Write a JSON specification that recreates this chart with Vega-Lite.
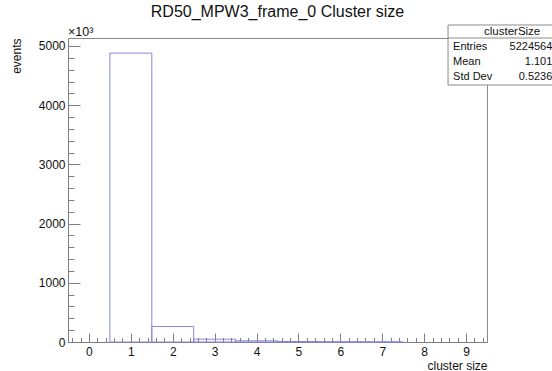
{
  "$schema": "https://vega.github.io/schema/vega-lite/v6.json",
  "width": 419,
  "height": 304,
  "autosize": "none",
  "padding": {"left": 68, "top": 38, "right": 65, "bottom": 29},
  "background": "white",
  "config": {
    "font": "Liberation Sans",
    "view": {"stroke": "#8a8a8a", "strokeWidth": 1}
  },
  "title": {
    "text": "RD50_MPW3_frame_0 Cluster size",
    "font": "Liberation Sans",
    "fontSize": 16,
    "fontWeight": "normal",
    "color": "#111111",
    "anchor": "middle",
    "frame": "group",
    "baseline": "alphabetic",
    "offset": -9
  },
  "datasets": {
    "bins": [
      {"cluster_size": 1, "lo": 0.5, "hi": 1.5, "events": 4880000},
      {"cluster_size": 2, "lo": 1.5, "hi": 2.5, "events": 262000},
      {"cluster_size": 3, "lo": 2.5, "hi": 3.5, "events": 48000},
      {"cluster_size": 4, "lo": 3.5, "hi": 4.5, "events": 20000},
      {"cluster_size": 5, "lo": 4.5, "hi": 5.5, "events": 8500},
      {"cluster_size": 6, "lo": 5.5, "hi": 6.5, "events": 4000},
      {"cluster_size": 7, "lo": 6.5, "hi": 7.5, "events": 2064}
    ],
    "stats": [
      {"name": "clusterSize", "entries": "5224564", "mean": "1.101", "std_dev": "0.5236"}
    ]
  },
  "resolve": {"axis": {"x": "independent", "y": "independent"}},
  "layer": [
    {
      "data": {"name": "bins"},
      "mark": {"type": "rect", "fillOpacity": 0, "stroke": "#8787d9", "strokeWidth": 1},
      "encoding": {
        "x": {
          "field": "lo", "type": "quantitative",
          "scale": {"domain": [-0.5, 9.5], "nice": false, "zero": false},
          "axis": {
            "orient": "bottom",
            "values": [0, 1, 2, 3, 4, 5, 6, 7, 8, 9],
            "format": "d",
            "grid": false,
            "tickSize": -9,
            "tickColor": "#7f7f7f",
            "domainColor": "#7f7f7f",
            "labelFontSize": 12,
            "labelColor": "#111111",
            "labelPadding": 13,
            "title": "cluster size",
            "titleFontSize": 12,
            "titleFontWeight": "normal",
            "titleColor": "#111111",
            "titleAnchor": "end",
            "titlePadding": 3
          }
        },
        "x2": {"field": "hi"},
        "y": {
          "field": "events", "type": "quantitative",
          "scale": {"domain": [0, 5135000], "nice": false},
          "axis": {
            "orient": "left",
            "values": [0, 1000000, 2000000, 3000000, 4000000, 5000000],
            "labelExpr": "format(datum.value / 1000, 'd')",
            "grid": false,
            "tickSize": -12,
            "tickColor": "#7f7f7f",
            "domainColor": "#7f7f7f",
            "labelFontSize": 12,
            "labelColor": "#111111",
            "labelPadding": 15,
            "title": "events",
            "titleFontSize": 12,
            "titleFontWeight": "normal",
            "titleColor": "#111111",
            "titleAnchor": "end",
            "titlePadding": 15
          }
        },
        "y2": {"datum": 0}
      }
    },
    {
      "data": {"name": "bins"},
      "mark": {"type": "rect", "opacity": 0},
      "encoding": {
        "x": {
          "field": "lo", "type": "quantitative",
          "axis": {
            "orient": "bottom",
            "values": [-0.4, -0.2, 0.2, 0.4, 0.6, 0.8, 1.2, 1.4, 1.6, 1.8, 2.2, 2.4, 2.6, 2.8, 3.2, 3.4, 3.6, 3.8, 4.2, 4.4, 4.6, 4.8, 5.2, 5.4, 5.6, 5.8, 6.2, 6.4, 6.6, 6.8, 7.2, 7.4, 7.6, 7.8, 8.2, 8.4, 8.6, 8.8, 9.2, 9.4],
            "grid": false,
            "domain": false,
            "labels": false,
            "tickSize": -4.5,
            "tickColor": "#7f7f7f",
            "title": null
          }
        },
        "x2": {"field": "hi"},
        "y": {
          "field": "events", "type": "quantitative",
          "axis": {
            "orient": "left",
            "values": [200000, 400000, 600000, 800000, 1200000, 1400000, 1600000, 1800000, 2200000, 2400000, 2600000, 2800000, 3200000, 3400000, 3600000, 3800000, 4200000, 4400000, 4600000, 4800000],
            "grid": false,
            "domain": false,
            "labels": false,
            "tickSize": -6,
            "tickColor": "#7f7f7f",
            "title": null
          }
        },
        "y2": {"datum": 0}
      }
    },
    {
      "data": {"name": "stats"},
      "mark": {"type": "text", "text": "×10³", "align": "left", "baseline": "bottom", "dy": 1, "fontSize": 12.5, "color": "#111111"},
      "encoding": {
        "x": {"datum": -0.5, "axis": null},
        "y": {"datum": 5135000, "axis": null}
      }
    },
    {
      "data": {"name": "stats"},
      "mark": {"type": "rect", "fill": "white", "stroke": "#8a8a8a", "strokeWidth": 1},
      "encoding": {
        "x": {"datum": 8.57, "axis": null},
        "x2": {"datum": 11.4},
        "y": {"datum": 5354800, "axis": null},
        "y2": {"datum": 4341200}
      }
    },
    {
      "data": {"name": "stats"},
      "mark": {"type": "rule", "stroke": "#8a8a8a", "strokeWidth": 1},
      "encoding": {
        "x": {"datum": 8.57, "axis": null},
        "x2": {"datum": 11.4},
        "y": {"datum": 5135000, "axis": null}
      }
    },
    {
      "data": {"name": "stats"},
      "mark": {"type": "text", "align": "center", "baseline": "middle", "fontSize": 11.5, "color": "#111111"},
      "encoding": {
        "x": {"datum": 10.1, "axis": null},
        "y": {"datum": 5236000, "axis": null},
        "text": {"field": "name"}
      }
    },
    {
      "data": {"name": "stats"},
      "mark": {"type": "text", "text": ["Entries", "Mean", "Std Dev"], "align": "left", "baseline": "middle", "lineHeight": 15, "fontSize": 11, "color": "#111111"},
      "encoding": {
        "x": {"datum": 8.69, "axis": null},
        "y": {"datum": 4983000, "axis": null}
      }
    },
    {
      "data": {"name": "stats"},
      "mark": {"type": "text", "align": "right", "baseline": "middle", "fontSize": 11, "color": "#111111"},
      "encoding": {
        "x": {"datum": 11.06, "axis": null},
        "y": {"datum": 4983000, "axis": null},
        "text": {"field": "entries"}
      }
    },
    {
      "data": {"name": "stats"},
      "mark": {"type": "text", "align": "right", "baseline": "middle", "fontSize": 11, "color": "#111111"},
      "encoding": {
        "x": {"datum": 11.06, "axis": null},
        "y": {"datum": 4729600, "axis": null},
        "text": {"field": "mean"}
      }
    },
    {
      "data": {"name": "stats"},
      "mark": {"type": "text", "align": "right", "baseline": "middle", "fontSize": 11, "color": "#111111"},
      "encoding": {
        "x": {"datum": 11.06, "axis": null},
        "y": {"datum": 4476200, "axis": null},
        "text": {"field": "std_dev"}
      }
    }
  ]
}
